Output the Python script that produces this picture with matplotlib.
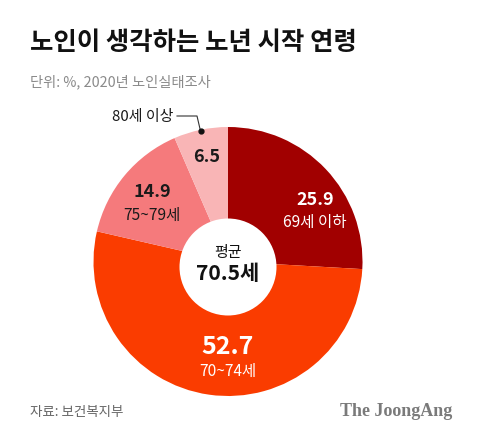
import matplotlib
matplotlib.use("Agg")
import matplotlib.pyplot as plt
from matplotlib.patches import Circle

plt.rcParams['font.family'] = ['Noto Sans CJK KR', 'DejaVu Sans']

# Data
categories = ['69세 이하', '70~74세', '75~79세', '80세 이상']
values = [25.9, 52.7, 14.9, 6.5]
colors = ['#a10000', '#fa3c00', '#f57a7c', '#f9b5b6']
value_labels = ['25.9', '52.7', '14.9', '6.5']
title = '노인이 생각하는 노년 시작 연령'
subtitle = '단위: %, 2020년 노인실태조사'
center_top = '평균'
center_value = '70.5세'
source = '자료: 보건복지부'
brand = 'The JoongAng'

W, H = 480, 439
fig = plt.figure(figsize=(W / 100, H / 100), dpi=100)
ax = fig.add_axes([0, 0, 1, 1])

def Y(py):
    return H - py

def pt(px):
    return px * 0.72

cx, cy, R = 228, 262.5, 134.5
ax.pie(values, colors=colors, startangle=90, counterclock=False,
       radius=R, center=(cx, Y(cy)),
       wedgeprops=dict(edgecolor='none', linewidth=0))
ax.add_patch(Circle((cx, Y(268)), 48.5, facecolor='white', edgecolor='none', zorder=3))

ax.set_xlim(0, W)
ax.set_ylim(0, H)
ax.set_aspect('equal')
ax.axis('off')

# Title & subtitle
ax.text(30, Y(42), title, fontsize=pt(25.4), fontweight='bold', color='#111111',
        ha='left', va='center')
ax.text(30, Y(82), subtitle, fontsize=pt(14.3), color='#8a8a8a', ha='left', va='center')

# Center text
ax.text(cx, Y(253), center_top, fontsize=pt(15), color='#111111', ha='center', va='center', zorder=4)
ax.text(cx, Y(274), center_value, fontsize=pt(21), fontweight='bold', color='#111111',
        ha='center', va='center', zorder=4)

# Slice labels
ax.text(315, Y(200), value_labels[0], fontsize=pt(18), fontweight='bold', color='white', ha='center', va='center')
ax.text(315, Y(222), categories[0], fontsize=pt(15.5), color='white', ha='center', va='center')

ax.text(cx, Y(347), value_labels[1], fontsize=pt(25), fontweight='bold', color='white', ha='center', va='center')
ax.text(cx, Y(371), categories[1], fontsize=pt(15.5), color='white', ha='center', va='center')

ax.text(152, Y(192), value_labels[2], fontsize=pt(18), fontweight='bold', color='#1a1a1a', ha='center', va='center')
ax.text(152, Y(215), categories[2], fontsize=pt(15.5), color='#1a1a1a', ha='center', va='center')

ax.text(207, Y(157), value_labels[3], fontsize=pt(18), fontweight='bold', color='#1a1a1a', ha='center', va='center')

# Leader for 80세 이상
ax.plot([177, 197, 200.5], [Y(117), Y(117), Y(132)], color='#333333', lw=0.8)
ax.plot([200.5], [Y(132)], marker='o', ms=3.5, color='#111111')
ax.text(173, Y(117), categories[3], fontsize=pt(15), color='#1a1a1a', ha='right', va='center')

# Footer
ax.text(30, Y(412), source, fontsize=pt(13.5), color='#666666', ha='left', va='center')
ax.text(452, Y(412), brand, fontsize=pt(18), fontweight='bold', color='#7a7a7a',
        family='Liberation Serif', ha='right', va='center')

fig.savefig('out.png', dpi=100)
